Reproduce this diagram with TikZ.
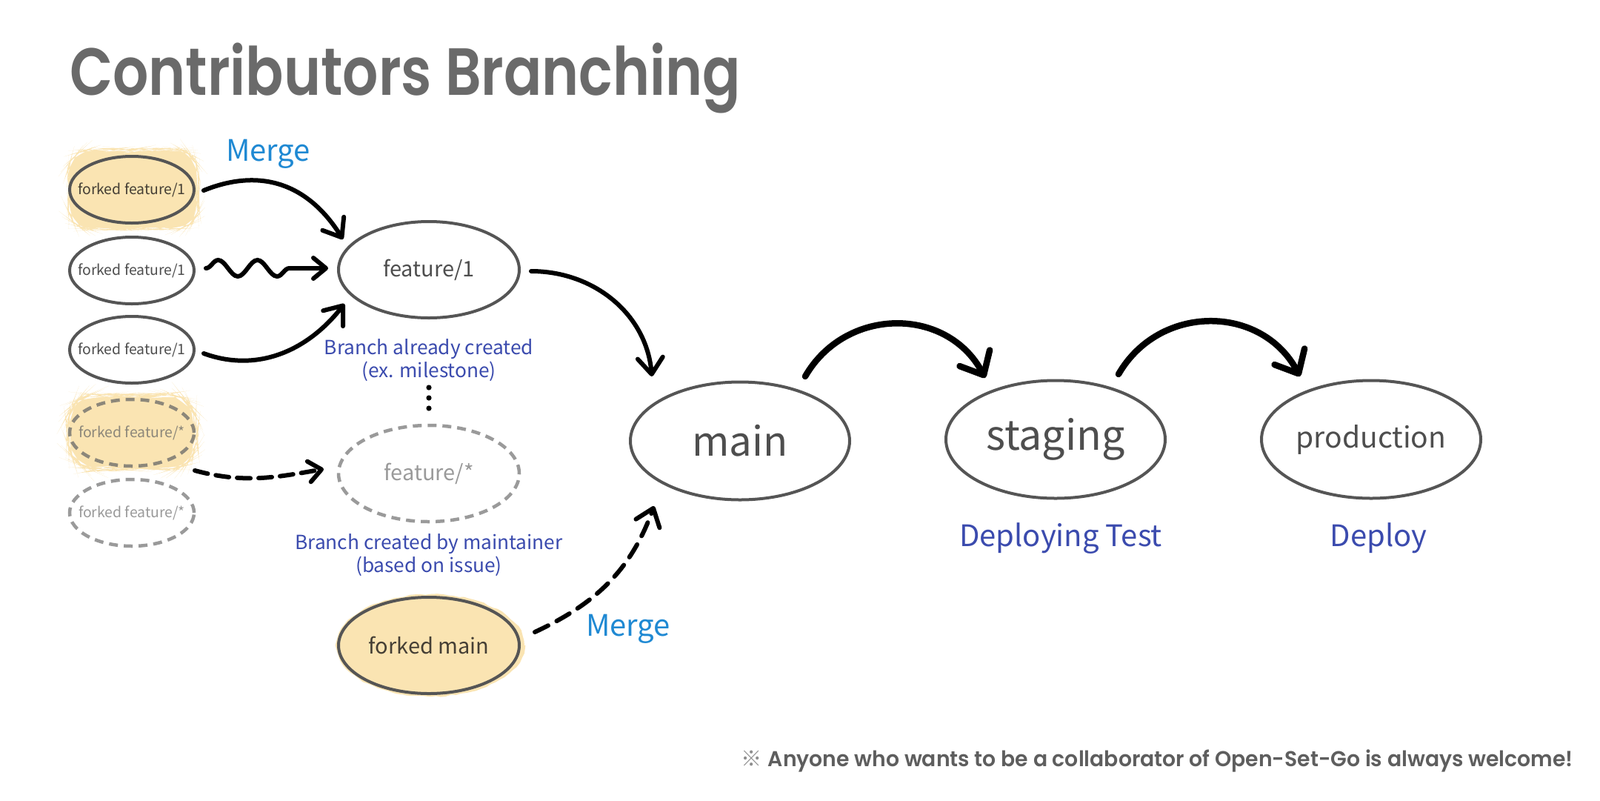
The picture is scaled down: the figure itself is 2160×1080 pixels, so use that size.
\documentclass[tikz,border=0pt]{standalone}
\usepackage{fontspec}
\usepackage{graphicx}
\usetikzlibrary{shapes.geometric,arrows.meta,decorations.pathmorphing}
\newfontfamily\nsk{Noto Sans CJK KR}
\newfontfamily\pops{Poppins}[UprightFont=* SemiBold]
\definecolor{edgec}{HTML}{555555}
\definecolor{hl}{HTML}{FAE4B2}
\definecolor{lbl}{HTML}{3B4BAE}
\definecolor{mrg}{HTML}{1F89D3}
\definecolor{txt}{HTML}{4E4E4E}
\definecolor{txtd}{HTML}{453F35}
\definecolor{dashg}{HTML}{9A9A9A}
\definecolor{dashy}{HTML}{8C877A}
\definecolor{titleg}{HTML}{6A6A6A}
\definecolor{noteg}{HTML}{5E5E5E}
\newcommand{\zb}[1]{\makebox[0pt]{#1}}
\tikzset{
  br/.style={ellipse, draw=edgec, line width=4pt, inner sep=0pt, text=txt},
  small/.style={br, minimum width=168pt, minimum height=90pt, font={\nsk\fontsize{19.4}{22}\selectfont}},
  mid/.style={br, minimum width=244pt, minimum height=130pt, font={\nsk\fontsize{29}{33}\selectfont}},
  big/.style={br, minimum width=296pt, minimum height=159pt},
  dsh/.style={dash pattern=on 12pt off 8pt},
  conn/.style={line width=6pt, black, line cap=round, -{Straight Barb[length=22pt,width=34pt,round]}},
  smallconn/.style={line width=6pt, black, line cap=round, -{Straight Barb[length=17pt,width=28pt,round]}},
  bigconn/.style={line width=8.5pt, black, line cap=round, -{Straight Barb[length=26pt,width=46pt,round]}},
  lab/.style={font={\nsk\fontsize{26.3}{31}\selectfont}, text=lbl, align=center, inner sep=0pt},
  biglab/.style={font={\nsk\fontsize{40}{44}\selectfont}, text=lbl, inner sep=0pt},
  merge/.style={font={\nsk\fontsize{40}{44}\selectfont}, text=mrg, inner sep=0pt},
  patch/.style={fill=hl, decorate, decoration={random steps, segment length=7pt, amplitude=0.9pt}},
}
\begin{document}
\begin{tikzpicture}[x=1pt,y=1pt]
\useasboundingbox (0,0) rectangle (2160,-1080);
\fill[white] (0,0) rectangle (2160,-1080);

% title and footnote
\node[anchor=base west, inner sep=0pt, text=titleg] (title) at (94,-128)
  {\resizebox{906pt}{\height}{\pops\fontsize{90}{90}\selectfont Contributors Branching}};
\node[anchor=base east, inner sep=0pt, text=noteg] (note) at (2124,-1034)
  {\resizebox{1123pt}{\height}{\fontsize{29}{29}\selectfont{\nsk\color{noteg!70}※}\hspace{8pt}\pops Anyone who wants to be a collaborator of Open-Set-Go is always welcome!}};

% highlight patches
\path[patch, rounded corners=30pt] (92,-202) rectangle (267,-309);
\path[patch, rounded corners=36pt] (92,-533) rectangle (264,-633);
\path[patch] (581,-871) ellipse [x radius=127pt, y radius=69pt];

% forked nodes
\node[small, text=txtd] (A1) at (178,-256) {\zb{forked feature/1}};
\node[small] (A2) at (178,-365) {\zb{forked feature/1}};
\node[small] (A3) at (178,-472) {\zb{forked feature/1}};
\node[small, dsh, line width=4.5pt, draw=dashy, text=dashy] (A4) at (178,-584) {\zb{forked feature/*}};
\node[small, dsh, line width=4.5pt, draw=dashg, text=dashg] (A5) at (178,-692) {\zb{forked feature/*}};

% feature nodes
\node[mid] (F1) at (579,-364) {\zb{feature/1}};
\node[mid, dsh, line width=4.5pt, draw=dashg, text=dashg] (FS) at (579,-639) {\zb{feature/*}};
\node[mid, text=txtd] (FM) at (579,-871) {\zb{forked main}};

% main line
\node[big, font={\nsk\fontsize{54.5}{58}\selectfont}] (main) at (999,-595) {\zb{main}};
\node[big, font={\nsk\fontsize{55.5}{60}\selectfont}] (staging) at (1425,-593) {\zb{staging}};
\node[big, font={\nsk\fontsize{39}{44}\selectfont}] (production) at (1851,-593) {\zb{production}};

% labels
\node[merge, anchor=base] (M1) at (362,-217) {Merge};
\node[merge, anchor=base] (M2) at (848,-858) {Merge};
\node[lab, anchor=base] (L1) at (579,-509) {Branch already created\\(ex. milestone)};
\node[lab, anchor=base] (L2) at (579,-772) {Branch created by maintainer\\(based on issue)};
\node[biglab, anchor=base] (L3) at (1432,-737) {Deploying Test};
\node[biglab, anchor=base] (L4) at (1861,-737) {Deploy};

% dots
\foreach \yy in {-523,-537,-551} \fill (579,\yy) circle (3.6pt);

% connectors
\draw[conn] ([shift={(97pt,-1pt)}]A1.center) to[out=22,in=122,looseness=1.1] ([shift={(-116pt,41pt)}]F1.center);
\draw[smallconn, decorate, decoration={snake, amplitude=11pt, segment length=53pt, post length=42pt}]
  ([shift={(100pt,3pt)}]A2.center) -- ([shift={(-136pt,2pt)}]F1.center);
\draw[conn] ([shift={(97pt,-5pt)}]A3.center) to[out=-20,in=232] ([shift={(-114pt,-46pt)}]F1.center);
\draw[smallconn, dash pattern=on 18pt off 11pt] ([shift={(85pt,-51pt)}]A4.center) to[out=-15,in=190] ([shift={(-142pt,6pt)}]FS.center);
\draw[conn] ([shift={(138pt,-2pt)}]F1.center) to[out=0,in=95] ([shift={(-119pt,87pt)}]main.center);
\draw[conn, dash pattern=on 20pt off 13pt] ([shift={(143pt,18pt)}]FM.center) to[out=25,in=250] ([shift={(-116pt,-88pt)}]main.center);
\draw[bigconn] ([shift={(88pt,87pt)}]main.center) to[out=60,in=118,looseness=1.15] ([shift={(-95pt,83pt)}]staging.center);
\draw[bigconn] ([shift={(85pt,88pt)}]staging.center) to[out=60,in=118,looseness=1.15] ([shift={(-96pt,85pt)}]production.center);
\end{tikzpicture}
\end{document}
